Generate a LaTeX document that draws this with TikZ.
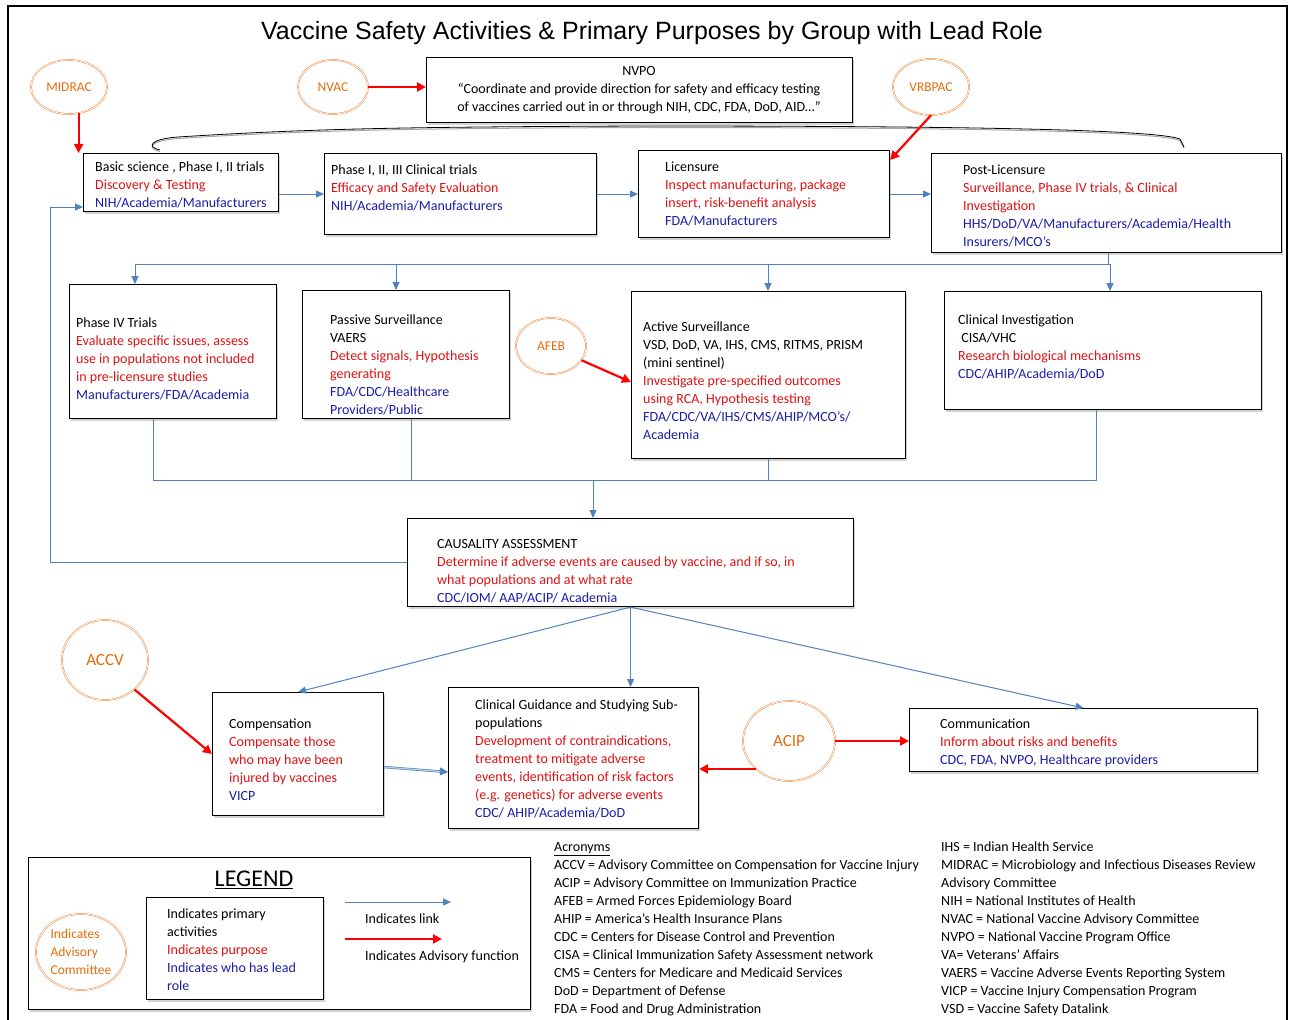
\documentclass[tikz,border=0pt]{standalone}
\usepackage{fontspec}
\setmainfont{Carlito}
\newfontfamily\titlefont{Liberation Sans}
\usetikzlibrary{shapes.geometric,arrows.meta,shadows,calc}
\definecolor{tred}{RGB}{222,18,18}
\definecolor{tblue}{RGB}{28,28,170}
\definecolor{linkblue}{RGB}{79,129,189}
\definecolor{ellorange}{RGB}{240,140,70}
\definecolor{txtorange}{RGB}{228,108,10}
\newcommand\redt[1]{\textcolor{tred}{#1}}
\newcommand\bluet[1]{\textcolor{tblue}{#1}}
\begin{document}
\begin{tikzpicture}[x=1pt,y=-1pt,
  box/.style={draw=black, line width=1.1pt, fill=white, anchor=north west, inner sep=0pt,
    drop shadow={shadow xshift=1.2pt, shadow yshift=-2pt, fill=black!35, opacity=0.5}},
  txt/.style={anchor=north west, inner sep=0pt, align=left, yshift=-2pt, font=\fontsize{14}{18}\selectfont},
  comm/.style={ellipse, draw=ellorange, line width=0.5pt, double=white, double distance=0.7pt,
    text=txtorange, inner sep=0pt, font=\fontsize{13.5}{18}\selectfont},
  blink/.style={draw=linkblue, line width=1pt, -{Triangle[length=8pt,width=7pt]}},
  bline/.style={draw=linkblue, line width=1pt},
  radv/.style={draw=red, line width=2.2pt, -{Triangle[length=9pt,width=9pt]}}
]
\useasboundingbox (0,0) rectangle (1289,1019);
% outer frame
\draw[line width=1.3pt] (8,1030) -- (8,6) -- (1287,6) -- (1287,1030);

% title
\node[font=\titlefont\fontsize{25}{28}\selectfont] (title) at (652,33)
  {Vaccine Safety Activities \& Primary Purposes by Group with Lead Role};

% committees
\node[comm, minimum width=76pt, minimum height=54pt] (midrac) at (69,87) {MIDRAC};
\node[comm, minimum width=70pt, minimum height=54pt] (nvac) at (333,87) {NVAC};
\node[comm, minimum width=76pt, minimum height=56pt] (vrbpac) at (931,87) {VRBPAC};
\node[comm, minimum width=70pt, minimum height=56pt] (afeb) at (551,346) {AFEB};
\node[comm, minimum width=86pt, minimum height=80pt, font=\fontsize{17}{20}\selectfont] (accv) at (105,660) {ACCV};
\node[comm, minimum width=92pt, minimum height=80pt, font=\fontsize{17}{20}\selectfont] (acip) at (789,741) {ACIP};

% NVPO
\node[box, minimum width=426pt, minimum height=65pt] (nvpo) at (426,57) {};
\node[txt, anchor=north, align=center] (nvpot) at (639,64)
  {NVPO\\“Coordinate and provide direction for safety and efficacy testing\\of vaccines carried out in or through NIH, CDC, FDA, DoD, AID…”};

% brace under NVPO
\draw[black!35, line width=1pt, yshift=-1.5pt]
  (160,150) .. controls (146,147) and (150,139) .. (178,137)
  .. controls (320,128) and (420,127) .. (640,126)
  .. controls (900,126) and (1150,128) .. (1180,139) -- (1184,147);
\draw[black, line width=0.8pt]
  (160,150) .. controls (146,147) and (150,139) .. (178,137)
  .. controls (320,128) and (420,127) .. (640,126)
  .. controls (900,126) and (1150,128) .. (1180,139) -- (1184,147);

% row 1
\node[box, minimum width=195pt, minimum height=58pt] (basic) at (83,153) {};
\node[txt] (basict) at (95,160) {Basic science , Phase I, II trials\\\redt{Discovery \& Testing}\\\bluet{NIH/Academia/Manufacturers}};
\node[box, minimum width=272pt, minimum height=81pt] (ph123) at (324,153) {};
\node[txt] (ph123t) at (331,163) {Phase I, II, III  Clinical trials\\\redt{Efficacy and Safety Evaluation}\\\bluet{NIH/Academia/Manufacturers}};
\node[box, minimum width=251pt, minimum height=87pt] (lic) at (638,150) {};
\node[txt] (lict) at (665,160) {Licensure\\\redt{Inspect manufacturing, package}\\\redt{insert, risk-benefit analysis}\\\bluet{FDA/Manufacturers}};
\node[box, minimum width=350pt, minimum height=99pt] (post) at (931,153) {};
\node[txt] (postt) at (963,163) {Post-Licensure\\\redt{Surveillance, Phase IV trials, \& Clinical}\\\redt{Investigation}\\\bluet{HHS/DoD/VA/Manufacturers/Academia/Health}\\\bluet{Insurers/MCO’s}};

% row 2
\node[box, minimum width=207pt, minimum height=134pt] (ph4) at (69,284) {};
\node[txt] (ph4t) at (76,316) {Phase IV Trials\\\redt{Evaluate specific issues, assess}\\\redt{use in populations not included}\\\redt{in pre-licensure studies}\\\bluet{Manufacturers/FDA/Academia}};
\node[box, minimum width=207pt, minimum height=128pt] (pass) at (302,290) {};
\node[txt] (passt) at (330,313) {Passive Surveillance\\VAERS\\\redt{Detect signals, Hypothesis}\\\redt{generating}\\\bluet{FDA/CDC/Healthcare}\\\bluet{Providers/Public}};
\node[box, minimum width=274pt, minimum height=167pt] (act) at (631,291) {};
\node[txt] (actt) at (643,320) {Active Surveillance\\VSD, DoD, VA, IHS, CMS, RITMS, PRISM\\(mini sentinel)\\\redt{Investigate pre-specified outcomes}\\\redt{using RCA,  Hypothesis testing}\\\bluet{FDA/CDC/VA/IHS/CMS/AHIP/MCO’s/}\\\bluet{Academia}};
\node[box, minimum width=317pt, minimum height=118pt] (cinv) at (944,291) {};
\node[txt] (cinvt) at (958,313) {Clinical Investigation\\\ CISA/VHC\\\redt{Research biological mechanisms}\\\bluet{CDC/AHIP/Academia/DoD}};

% causality
\node[box, minimum width=446pt, minimum height=88pt] (caus) at (407,518) {};
\node[txt] (caust) at (437,537) {CAUSALITY ASSESSMENT\\\redt{Determine if adverse events are caused by vaccine, and if so, in}\\\redt{what populations and at what rate}\\\bluet{CDC/IOM/ AAP/ACIP/ Academia}};

% row 3
\node[box, minimum width=171pt, minimum height=123pt] (comp) at (212,692) {};
\node[txt] (compt) at (229,717) {Compensation\\\redt{Compensate those}\\\redt{who may have been}\\\redt{injured by vaccines}\\\bluet{VICP}};
\node[box, minimum width=250pt, minimum height=141pt] (guid) at (448,687) {};
\node[txt] (guidt) at (475,698) {Clinical Guidance and Studying Sub-\\populations\\\redt{Development of contraindications,}\\\redt{treatment to mitigate adverse}\\\redt{events, identification of risk factors}\\\redt{(e.g. genetics) for adverse events}\\\bluet{CDC/ AHIP/Academia/DoD}};
\node[box, minimum width=348pt, minimum height=63pt] (commu) at (909,708) {};
\node[txt] (commut) at (940,717) {Communication\\\redt{Inform about risks and benefits}\\\bluet{CDC, FDA, NVPO, Healthcare providers}};

% advisory arrows
\draw[radv] (midrac.-70) -- (midrac.-70 |- basic.north);
\draw[radv] (nvac.east) -- (nvac.east -| nvpo.west);
\draw[radv] (vrbpac.south) -- ([yshift=-10pt]lic.north east);
\draw[radv] (afeb.-25) -- ([yshift=-7pt]act.west);
\draw[radv] (accv.-45) -- (comp.west);
\draw[radv] (acip.-140) -- (acip.-140 -| guid.east);
\draw[radv] (acip.east) -- (acip.east -| commu.west);

% links row 1
\draw[blink] (basic.east |- ph123.west) -- (ph123.west);
\draw[blink] (ph123.east) -- (ph123.east -| lic.west);
\draw[blink] (lic.east) -- (lic.east -| post.west);

% distribution bus
\coordinate (bus1) at (1108,264);
\coordinate (d1) at (135,264);
\coordinate (d2) at (396,264);
\coordinate (d3) at (768,264);
\coordinate (d4) at (1110,264);
\draw[bline] (post.south -| bus1) -- (bus1);
\draw[bline] (d1) -- (d4);
\draw[blink] (d1) -- (d1 |- ph4.north);
\draw[blink] (d2) -- (d2 |- pass.north);
\draw[blink] (d3) -- (d3 |- act.north);
\draw[blink] (d4) -- (d4 |- cinv.north);

% collection bus
\coordinate (c1) at (153,480);
\coordinate (c2) at (411,480);
\coordinate (c3) at (768,480);
\coordinate (c4) at (1096,480);
\coordinate (cm) at (593,480);
\draw[bline] (c1 |- ph4.south) -- (c1) -- (c4) -- (c4 |- cinv.south);
\draw[bline] (c2 |- pass.south) -- (c2);
\draw[bline] (c3 |- act.south) -- (c3);
\draw[blink] (cm) -- (cm |- caus.north);

% feedback
\coordinate (fb) at (50,207);
\draw[blink] (caus.west) -| (fb) -- (fb -| basic.west);

% causality outputs
\draw[blink] (caus.south) -- (comp.north);
\draw[blink] (caus.south) -- (caus.south |- guid.north);
\draw[blink] (caus.south) -- (commu.north);
\draw[draw=linkblue, line width=0.6pt, double=linkblue!40, double distance=1.2pt, -{Triangle[length=8pt,width=8pt]}]
  ([yshift=-13pt]comp.east) -- ([yshift=-14pt]guid.west);

% legend
\node[box, minimum width=502pt, minimum height=152pt] (leg) at (28,857) {};
\node[font=\fontsize{24}{28}\selectfont] (legt) at (254,880) {\underline{LEGEND}};
\node[comm, minimum width=90pt, minimum height=76pt, align=left] (legc) at (81,952) {Indicates\\Advisory\\Committee};
\node[box, minimum width=177pt, minimum height=102pt] (legb) at (146,897) {};
\node[txt] (legbt) at (167,907) {Indicates primary\\activities\\\redt{Indicates purpose}\\\bluet{Indicates who has  lead}\\\bluet{role}};
\coordinate (la1) at (345,902);
\coordinate (la2) at (451,902);
\coordinate (lr1) at (345,939);
\coordinate (lr2) at (442,939);
\draw[blink] (la1) -- (la2);
\draw[radv] (lr1) -- (lr2);
\node[txt] (llink) at (365,912) {Indicates link};
\node[txt] (ladv) at (365,949) {Indicates Advisory function};

% acronyms
\node[txt] (acr1) at (554,840) {\underline{Acronyms}\\ACCV = Advisory Committee on Compensation for Vaccine Injury\\ACIP = Advisory Committee on Immunization Practice\\AFEB = Armed Forces Epidemiology Board\\AHIP = America’s Health Insurance Plans\\CDC = Centers for Disease Control and Prevention\\CISA = Clinical Immunization Safety Assessment network\\CMS = Centers for Medicare and Medicaid Services\\DoD = Department of Defense\\FDA = Food and Drug Administration};
\node[txt] (acr2) at (941,840) {IHS = Indian Health Service\\MIDRAC = Microbiology and Infectious Diseases Review\\Advisory Committee\\NIH = National Institutes of Health\\NVAC = National Vaccine Advisory Committee\\NVPO = National Vaccine Program Office\\VA= Veterans’ Affairs\\VAERS = Vaccine Adverse Events Reporting System\\VICP = Vaccine Injury Compensation Program\\VSD = Vaccine Safety Datalink};
\end{tikzpicture}
\end{document}
